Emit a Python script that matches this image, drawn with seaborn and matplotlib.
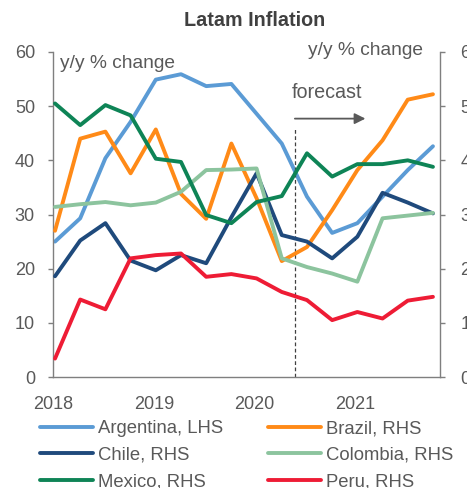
import numpy as np
import pandas as pd
import matplotlib
matplotlib.use("Agg")
import matplotlib.pyplot as plt
import seaborn as sns

# ---- data (quarterly, 2018Q1 .. 2021Q4) ----
quarters = [2018.02 + 0.25 * k for k in range(16)]
argentina = [25.0, 29.3, 40.4, 47.1, 54.9, 55.9, 53.7, 54.1, 48.6, 43.1, 33.3, 26.6, 28.4, 33.3, 38.2, 42.6]  # LHS
brazil = [2.70, 4.40, 4.53, 3.76, 4.57, 3.38, 2.92, 4.31, 3.30, 2.14, 2.40, 3.08, 3.82, 4.37, 5.12, 5.22]     # RHS
chile = [1.86, 2.52, 2.84, 2.15, 1.97, 2.25, 2.10, 2.95, 3.76, 2.62, 2.50, 2.19, 2.59, 3.40, 3.22, 3.02]      # RHS
colombia = [3.14, 3.19, 3.23, 3.17, 3.22, 3.42, 3.82, 3.83, 3.85, 2.19, 2.03, 1.91, 1.76, 2.93, 2.98, 3.03]   # RHS
mexico = [5.05, 4.65, 5.02, 4.83, 4.03, 3.97, 2.99, 2.84, 3.23, 3.34, 4.13, 3.70, 3.93, 3.93, 4.00, 3.88]     # RHS
peru = [0.34, 1.43, 1.25, 2.19, 2.25, 2.28, 1.85, 1.90, 1.82, 1.57, 1.42, 1.05, 1.20, 1.08, 1.41, 1.48]       # RHS

year_ticks = [2018, 2019, 2020, 2021]
year_labels = ["2018", "2019", "2020", "2021"]
lhs_ticks = [0, 10, 20, 30, 40, 50, 60]
rhs_ticks = [0, 1, 2, 3, 4, 5, 6]
forecast_start = 2020.40

labels = {
    "Argentina": "Argentina, LHS",
    "Brazil": "Brazil, RHS",
    "Chile": "Chile, RHS",
    "Colombia": "Colombia, RHS",
    "Mexico": "Mexico, RHS",
    "Peru": "Peru, RHS",
}
colors = {
    "Argentina, LHS": "#5B9BD5",
    "Brazil, RHS": "#FF8A17",
    "Chile, RHS": "#1F4A7C",
    "Colombia, RHS": "#8CC49E",
    "Mexico, RHS": "#0E8456",
    "Peru, RHS": "#EE1C35",
}

lhs_df = pd.DataFrame({"x": quarters, "value": argentina, "series": labels["Argentina"]})
rhs_parts = []
for name, vals in [("Brazil", brazil), ("Chile", chile), ("Colombia", colombia),
                   ("Mexico", mexico), ("Peru", peru)]:
    rhs_parts.append(pd.DataFrame({"x": quarters, "value": vals, "series": labels[name]}))
rhs_df = pd.concat(rhs_parts, ignore_index=True)

sns.set_style("white")
plt.rcParams["font.family"] = ["Liberation Sans", "DejaVu Sans"]

gray = "#595959"
spine_gray = "#7F7F7F"
lw = 2.8
tick_fs = 13
leg_fs = 13.3
cap_fs = 13.8

fig = plt.figure(figsize=(4.67, 4.88), dpi=100)
ax = fig.add_axes([53 / 467, 1 - 377 / 488, (440 - 53) / 467, (377 - 52) / 488])
ax2 = ax.twinx()

sns.lineplot(data=lhs_df, x="x", y="value", hue="series", palette=colors,
             linewidth=lw, ax=ax, legend=False)
sns.lineplot(data=rhs_df, x="x", y="value", hue="series", palette=colors,
             linewidth=lw, ax=ax2, legend=False)

ax.set_xlim(2018, 2021.84)
ax.set_ylim(0, 60)
ax2.set_ylim(0, 6)
ax.set_xticks(year_ticks)
ax.set_xticklabels(year_labels)
ax.set_yticks(lhs_ticks)
ax2.set_yticks(rhs_ticks)
ax.set_xlabel("")
ax.set_ylabel("")
ax2.set_ylabel("")

for a in (ax, ax2):
    for s in a.spines.values():
        s.set_color(spine_gray)
        s.set_linewidth(1.0)
    a.spines["top"].set_visible(False)
ax.spines["right"].set_visible(False)
ax2.spines["left"].set_visible(False)
ax2.spines["bottom"].set_visible(False)

ax.tick_params(axis="both", direction="out", length=3.5, width=1.0, color=spine_gray,
               labelsize=tick_fs, labelcolor=gray)
ax.tick_params(axis="y", pad=9.5)
ax.tick_params(axis="x", pad=10.5)
ax2.tick_params(axis="y", direction="out", length=3.5, width=1.0, color=spine_gray,
                labelsize=tick_fs, labelcolor=gray, pad=11)

# axis captions
ax.text(0.018, 0.99, "y/y % change", transform=ax.transAxes, ha="left", va="top",
        fontsize=cap_fs, color=gray)
ax.text(0.955, 1.03, "y/y % change", transform=ax.transAxes, ha="right", va="top",
        fontsize=cap_fs, color=gray)

# forecast marker
ax.axvline(forecast_start, ymin=0, ymax=46.2 / 60, color="#404040", linestyle=(0, (3, 2)),
           linewidth=0.9)
ax.annotate("", xy=(forecast_start + 0.70, 47.7), xytext=(forecast_start, 47.7),
            arrowprops=dict(arrowstyle="-|>", color="#595959", lw=1.3,
                            mutation_scale=16, shrinkA=0, shrinkB=0))
ax.text(forecast_start - 0.03, 52.6, "forecast", ha="left", va="center",
        fontsize=14.2, color=gray)

# title
fig.text(255 / 467, 1 - 20 / 488, "Latam Inflation", ha="center", va="center",
         fontsize=14.2, fontweight="bold", color="#404040")

# legend
order = ["Argentina, LHS", "Chile, RHS", "Mexico, RHS", "Brazil, RHS", "Colombia, RHS", "Peru, RHS"]
handles = [plt.Line2D([], [], color=colors[o], linewidth=lw, solid_capstyle="round") for o in order]
leg = fig.legend(handles, order, ncol=2, loc="upper left",
                 bbox_to_anchor=(40 / 467, 1 - 420 / 488), frameon=False,
                 fontsize=leg_fs, handlelength=2.85, handletextpad=0.28,
                 columnspacing=2.45, labelspacing=0.52, borderpad=0, borderaxespad=0)
for t in leg.get_texts():
    t.set_color(gray)

fig.savefig("out.png", dpi=100)
